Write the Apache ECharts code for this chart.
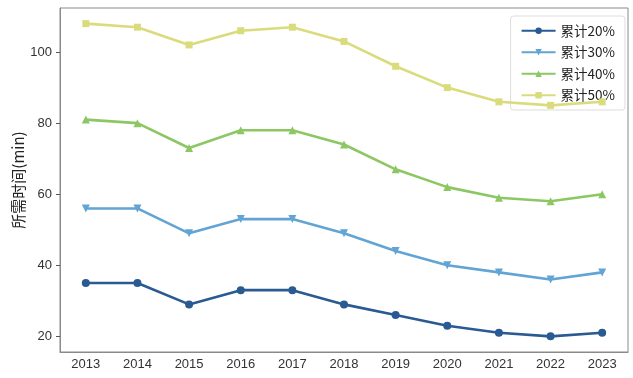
<!DOCTYPE html>
<html><head><meta charset="utf-8">
<script src="https://cdn.jsdelivr.net/npm/echarts@6/dist/echarts.min.js"></script>
<style>html,body{margin:0;padding:0;background:#fff}#c{width:633px;height:378px}</style>
</head><body><div id="c"></div>
<script>
var years = ['2013','2014','2015','2016','2017','2018','2019','2020','2021','2022','2023'];
var s20 = [35,35,29,33,33,29,26,23,21,20,21];
var s30 = [56,56,49,53,53,49,44,40,38,36,38];
var s40 = [81,80,73,78,78,74,67,62,59,58,60];
var s50 = [108,107,102,106,107,103,96,90,86,85,86];
var names = ['累计20%','累计30%','累计40%','累计50%'];
var yTicks = [20,40,60,80,100];

var colors = ['#2a5a92','#62a4d3','#8cc763','#dadc7c'];
var symbols = ['circle','triangle','triangle','rect'];
var rots = [0,180,0,0];
var data = [s20,s30,s40,s50];
var series = data.map(function(d,i){
  return {name:names[i], type:'line', data:d, symbol:symbols[i], symbolRotate:rots[i],
    symbolSize: i===3?7:8, color:colors[i], lineStyle:{width:2.6,color:colors[i]},
    itemStyle:{color:colors[i]}, z: 2+i};
});
var chart = echarts.init(document.getElementById('c'));
chart.setOption({
  animation:false,
  textStyle:{fontFamily:'Liberation Sans'},
  grid:{left:60,right:5,top:8,bottom:26,show:true,borderColor:'#8a8a8a',borderWidth:1,
    containLabel:false,outerBoundsMode:'none'},
  legend:{orient:'vertical',right:8,top:16,itemWidth:34,itemHeight:8,itemGap:8,
    backgroundColor:'rgba(255,255,255,0.85)',borderColor:'#dddddd',borderWidth:1,borderRadius:3,
    padding:[8,10,8,10],
    textStyle:{fontSize:13.5,color:'#222',fontFamily:'Noto Sans CJK SC'}},
  xAxis:{type:'category',data:years,boundaryGap:true,
    axisLine:{lineStyle:{color:'#8a8a8a'}},
    axisTick:{alignWithLabel:true,length:4,lineStyle:{color:'#555'}},
    axisLabel:{fontSize:13,color:'#333',margin:6},
    splitLine:{show:false}},
  yAxis:{type:'value',min:15.6,max:112.4,
    name:'所需时间(min)',nameLocation:'middle',nameGap:34,nameMoveOverlap:false,
    nameTextStyle:{fontSize:15,color:'#222',fontFamily:'Noto Sans CJK SC'},
    axisLine:{show:true,lineStyle:{color:'#8a8a8a'}},
    axisTick:{show:true,length:4,customValues:yTicks,lineStyle:{color:'#555'}},
    axisLabel:{fontSize:13,color:'#333',margin:8,customValues:yTicks},
    splitLine:{show:false}},
  series:series
});
</script></body></html>
